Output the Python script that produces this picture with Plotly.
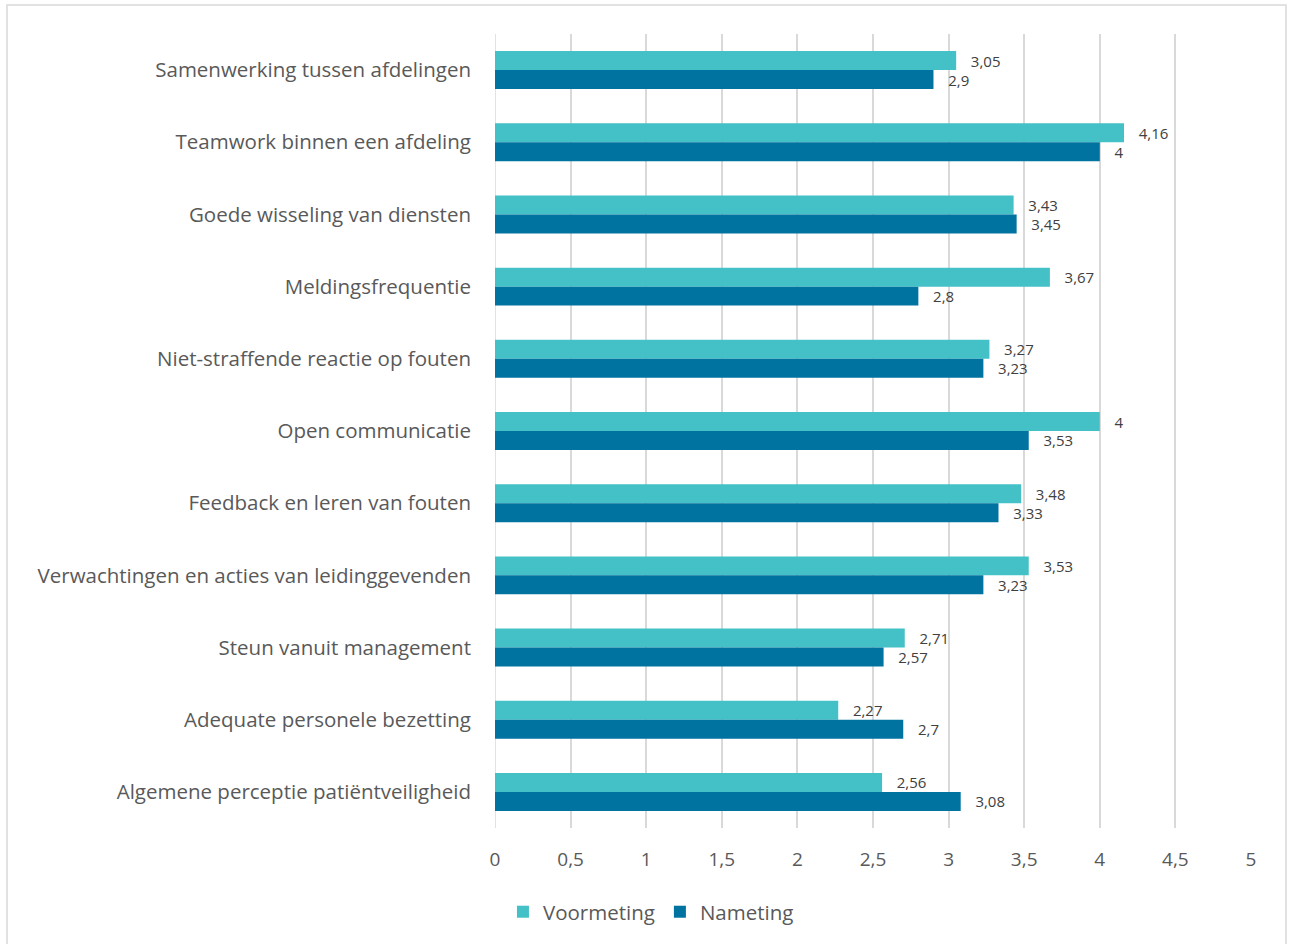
import plotly.graph_objects as go

categories = [
    "Samenwerking tussen afdelingen",
    "Teamwork binnen een afdeling",
    "Goede wisseling van diensten",
    "Meldingsfrequentie",
    "Niet-straffende reactie op fouten",
    "Open communicatie",
    "Feedback en leren van fouten",
    "Verwachtingen en acties van leidinggevenden",
    "Steun vanuit management",
    "Adequate personele bezetting",
    "Algemene perceptie patiëntveiligheid",
]
voormeting = [3.05, 4.16, 3.43, 3.67, 3.27, 4.00, 3.48, 3.53, 2.71, 2.27, 2.56]
nameting = [2.90, 4.00, 3.45, 2.80, 3.23, 3.53, 3.33, 3.23, 2.57, 2.70, 3.08]
tick_vals = [0, 0.5, 1, 1.5, 2, 2.5, 3, 3.5, 4, 4.5, 5]
tick_text = ["0", "0,5", "1", "1,5", "2", "2,5", "3", "3,5", "4", "4,5", "5"]


def fmt(v):
    s = ("%g" % v).replace(".", ",")
    return "\u00a0\u00a0\u00a0" + s


FONT = "Open Sans"
TXT = "#595959"

fig = go.Figure()
fig.add_trace(go.Bar(
    name="Voormeting", y=categories, x=voormeting, orientation="h",
    marker=dict(color="#43C1C6", line=dict(width=0)),
    text=[fmt(v) for v in voormeting], textposition="outside",
    constraintext="none",
    outsidetextfont=dict(family=FONT, size=15, color="#404040"), cliponaxis=False,
))
fig.add_trace(go.Bar(
    name="Nameting", y=categories, x=nameting, orientation="h",
    marker=dict(color="#0073A0", line=dict(width=0)),
    text=[fmt(v) for v in nameting], textposition="outside",
    constraintext="none",
    outsidetextfont=dict(family=FONT, size=15, color="#404040"), cliponaxis=False,
))

fig.update_layout(
    width=1289, height=944,
    margin=dict(l=495, r=38, t=34, b=116),
    paper_bgcolor="white", plot_bgcolor="white",
    barmode="group", bargap=0.474, bargroupgap=0,
    font=dict(family=FONT, color=TXT),
    uniformtext=dict(mode=False),
    showlegend=True,
    legend=dict(
        orientation="h", xref="container", yref="container",
        x=0.505, xanchor="center", y=0.034, yanchor="middle",
        font=dict(family=FONT, size=20.5, color=TXT),
        itemwidth=30, traceorder="normal",
    ),
    xaxis=dict(
        range=[0, 5], tickvals=tick_vals, ticktext=tick_text,
        showgrid=True, gridcolor="#D9D9D9", gridwidth=1.5,
        zeroline=False, showline=False, ticks="",
        tickfont=dict(family=FONT, size=19, color=TXT),
        ticklabelstandoff=18,
    ),
    yaxis=dict(
        autorange="reversed", showgrid=False, showline=False, ticks="",
        tickfont=dict(family=FONT, size=20.5, color=TXT),
        ticklabelstandoff=23,
    ),
    shapes=[dict(
        type="rect", xref="paper", yref="paper",
        x0=(7 - 495) / 756, x1=(1286 - 495) / 756,
        y0=-0.2, y1=(828 - 5) / 794,
        line=dict(color="#D9D9D9", width=1.5), fillcolor="rgba(0,0,0,0)",
        layer="below",
    ), dict(
        type="line", xref="x", yref="paper", x0=0, x1=0, y0=0, y1=1,
        line=dict(color="#D9D9D9", width=1.5), layer="below",
    )],
)

fig.write_html("out.html")
